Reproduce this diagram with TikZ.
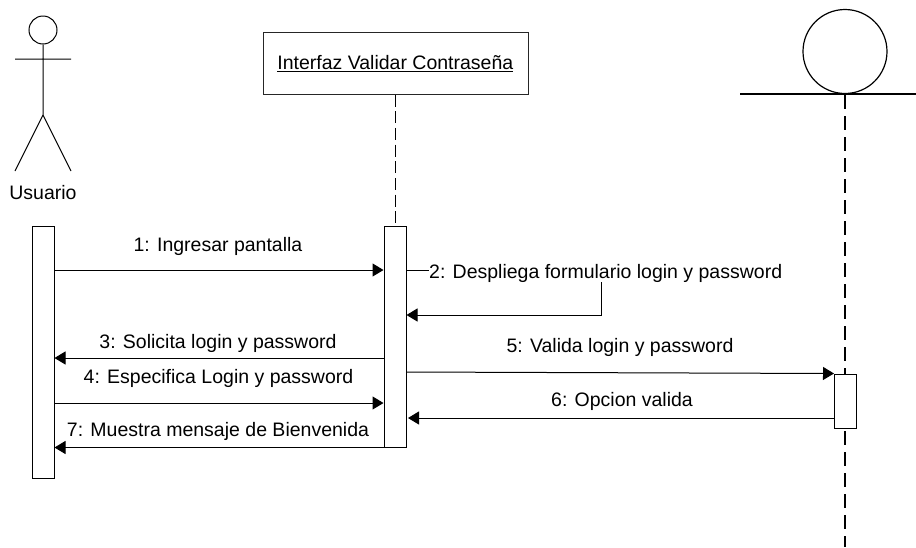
\documentclass[tikz,border=0pt]{standalone}
\usepackage{fontspec}
\setmainfont{Liberation Sans}
\usetikzlibrary{arrows.meta}
\tikzset{
  every node/.style={font=\fontsize{19.5}{22}\selectfont},
  ln/.style={line width=1pt,black},
  bar/.style={draw=black,line width=1pt,fill=white,inner sep=0pt,minimum width=22pt},
  msg/.style={ln,-{Triangle[length=11pt,width=13pt]}},
  life/.style={line width=1.2pt,dash pattern=on 14pt off 7pt},
  lab/.style={inner sep=0pt,anchor=base}
}
\begin{document}
\begin{tikzpicture}[x=1pt,y=-1pt]
\useasboundingbox (0,0) rectangle (916,547);
% actor
\node[draw=black,line width=1pt,circle,minimum size=28pt,inner sep=0pt] (head) at (43,30) {};
\coordinate (hip) at (43,115);
\coordinate (handL) at (15,59);
\coordinate (handR) at (71,59);
\coordinate (footL) at (15,171);
\coordinate (footR) at (71,171);
\draw[ln] (head.south) -- (hip) (handL) -- (handR) (footL) -- (hip) -- (footR);
\node[lab] (usuario) at (43,199.3) {Usuario};
% interface
\node[draw=black!85,line width=1pt,fill=white,minimum width=265pt,minimum height=62pt,inner sep=0pt] (iface) at (395.5,63) {};
\node[lab] (ifacelab) at (395.3,69.3) {\underline{Interfaz Validar Contraseña}};
% entity
\node[draw=black,line width=1.2pt,circle,minimum size=84pt,inner sep=0pt] (ent) at (845,51.5) {};
\coordinate (gl) at (740,94);
\coordinate (gr) at (916,94);
\draw[line width=1.4pt] (gl) -- (gr);
% lifelines
\coordinate (end) at (845,547);
\draw[life,dash pattern=on 12pt off 4.7pt,line width=0.9pt] (iface.south) -- (395.5,227);
\draw[life] (ent.south) ++(0,1) -- (end);
% activations
\node[bar,minimum height=252pt] (A) at (43,352) {};
\node[bar,minimum height=221pt] (B) at (395,336.5) {};
\node[bar,minimum height=54pt] (C) at (845.5,401) {};
% messages
\draw[msg] (A.east |- 0,270) -- (B.west |- 0,270);
\node[lab] (m1) at (218,251.7) {1: Ingresar pantalla};
\node[lab,anchor=base west] (m2) at (429,278.3) {2: Despliega formulario login y password};
\coordinate (turn) at (601,315);
\draw[ln] (B.east |- 0,270) -- (m2.west |- 0,270);
\draw[msg] (turn |- 0,282) -- (turn) -- (B.east |- turn);
\draw[msg] (B.west |- 0,358) -- (A.east |- 0,358);
\node[lab] (m3) at (218,348) {3: Solicita login y password};
\draw[msg] (A.east |- 0,403) -- (B.west |- 0,403);
\node[lab] (m4) at (218.5,383.5) {4: Especifica Login y password};
\draw[msg] (B.east |- 0,372) -- (C.north west);
\node[lab] (m5) at (620,352.7) {5: Valida login y password};
\draw[msg] (C.west |- 0,418) -- (408,418);
\node[lab] (m6) at (622,406.7) {6: Opcion valida};
\draw[msg] (B.south west) -- (A.east |- B.south west);
\node[lab] (m7) at (218,436.7) {7: Muestra mensaje de Bienvenida};
\end{tikzpicture}
\end{document}
